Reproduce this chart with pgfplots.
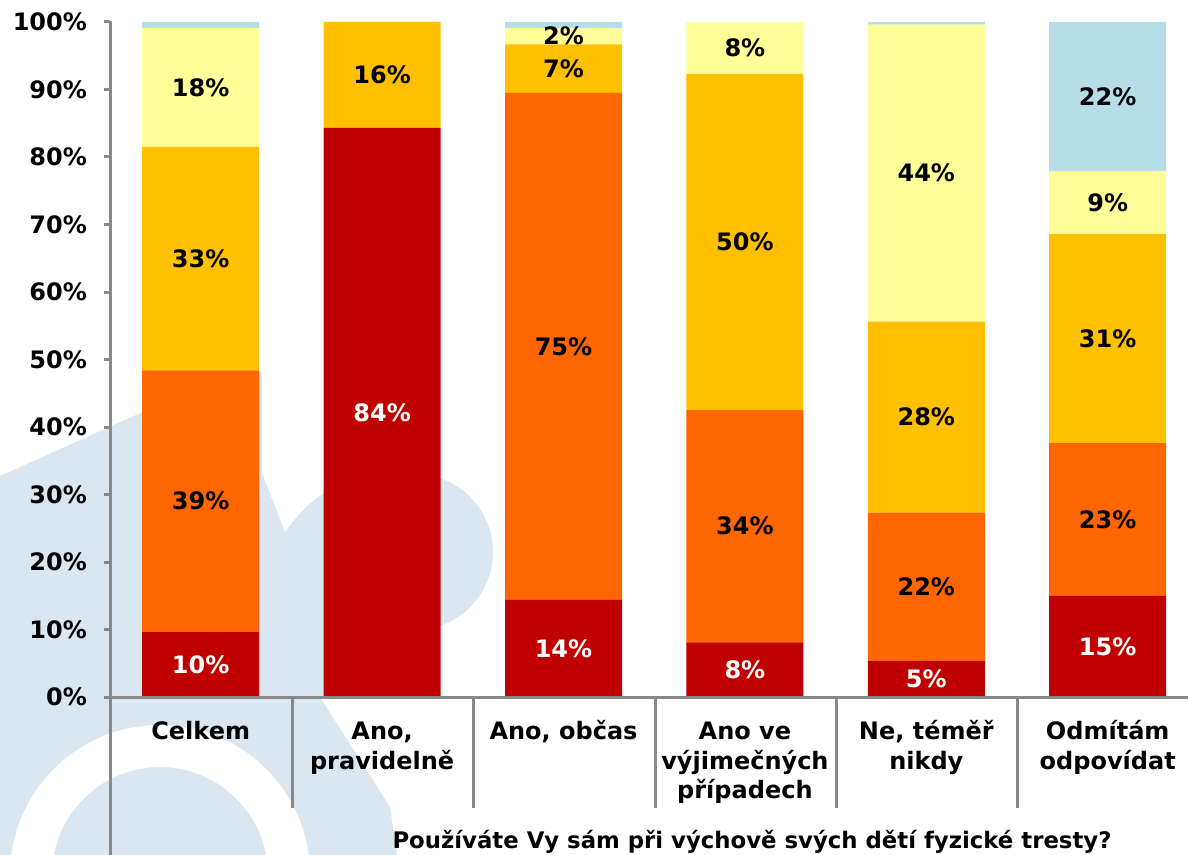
\documentclass[border=0pt]{standalone}
\usepackage{fontspec}
\setmainfont{DejaVu Sans}
\usepackage{pgfplots}
\pgfplotsset{compat=1.18}
\usepackage{pgfplotstable}

\definecolor{cDark}{HTML}{C00000}
\definecolor{cOrange}{HTML}{FF6600}
\definecolor{cGold}{HTML}{FFC000}
\definecolor{cPale}{HTML}{FFFF99}
\definecolor{cBlue}{HTML}{B7DDE8}
\definecolor{cAxis}{HTML}{898989}
\definecolor{cMark}{HTML}{DAE6F0}

% segment values (percent) and the rounded labels printed in the bars
\pgfplotstableread{
x a    la b    lb c    lc d    ld e    le
0 9.6  10 38.8 39 33.1 33 17.6 18 0.9  {}
1 84.3 84 0    {} 15.7 16 0    {} 0    {}
2 14.4 14 75.1 75 7.2  7  2.4  2  0.9  {}
3 8.1  8  34.4 34 49.8 50 7.7  8  0    {}
4 5.4  5  21.9 22 28.3 28 44.0 44 0.4  {}
5 15.0 15 22.6 23 31.0 31 9.3  9  22.1 22
}\answers

\newcommand\lbl{\bfseries\fontsize{12}{14.7}\selectfont}

\pgfplotsset{
  seg/.style={
    point meta=explicit symbolic,
    nodes near coords={\if\relax\detokenize\expandafter{\pgfplotspointmeta}\relax\else\pgfplotspointmeta\%\fi},
    every node near coord/.append style={anchor=center, inner sep=0pt, font=\lbl},
  },
}

\begin{document}
\begin{tikzpicture}
\useasboundingbox (0,0) rectangle (594pt,-427.5pt);

% faint logo in the background
\begin{scope}[x=0.5pt,y=-0.5pt]
  \fill[cMark] (0,476) -- (145,411) -- (262,372) -- (262,473) -- (285,532)
    .. controls (300,512) and (312,500) .. (325,493) -- (420,480) -- (420,690)
    -- (320,697) -- (390,807) -- (397,855) -- (0,855) -- cycle;
  \fill[cMark] (415,552) circle[radius=39pt];
  \fill[white, even odd rule] (160,875) circle[radius=75pt] (160,875) circle[radius=54pt];
\end{scope}

\begin{axis}[
  at={(55pt,-348.5pt)}, anchor=south west,
  scale only axis, width=539pt, height=337.5pt,
  xmin=-0.5, xmax=5.4427, ymin=0, ymax=100,
  ybar stacked, bar width=58.5pt,
  axis line style={draw=none},
  tick pos=left, tick align=outside, major tick length=3pt,
  ytick={0,10,...,100},
  yticklabels={0\%,10\%,20\%,30\%,40\%,50\%,60\%,70\%,80\%,90\%,100\%},
  ytick style={cAxis, line width=1.5pt},
  yticklabel style={font=\lbl, xshift=-5pt},
  xtick=data, xtick style={draw=none},
  xticklabels={{\strut Celkem},{\strut Ano,\\pravidelně},{\strut Ano, občas},
    {\strut Ano ve\\výjimečných\\případech},{\strut Ne, téměř\\nikdy},
    {\strut Odmítám\\odpovídat}},
  xticklabel style={font=\lbl, align=center, anchor=north, yshift=-4.5pt},
]
\addplot[fill=cDark, draw=none, seg=a, every node near coord/.append style={text=white}]
  table[x=x, y=a, meta=la] {\answers};
\addplot[fill=cOrange, draw=none, seg=b] table[x=x, y=b, meta=lb] {\answers};
\addplot[fill=cGold, draw=none, seg=c] table[x=x, y=c, meta=lc] {\answers};
\addplot[fill=cPale, draw=none, seg=d] table[x=x, y=d, meta=ld] {\answers};
\addplot[fill=cBlue, draw=none, seg=e] table[x=x, y=e, meta=le] {\answers};
\end{axis}

\begin{scope}[x=0.5pt,y=-0.5pt]
  \draw[cAxis, line width=1.5pt] (110,21) -- (110,855);
  \draw[cAxis, line width=1.5pt] (104,697) -- (1188,697);
  \foreach \s in {292,473,655,836,1017}
    \draw[cAxis, line width=1.5pt] (\s,697) -- (\s,808);
  \node[font=\bfseries\fontsize{11.4}{14}\selectfont, anchor=base] at (752,848)
    {Používáte Vy sám při výchově svých dětí fyzické tresty?};
\end{scope}
\end{tikzpicture}
\end{document}
